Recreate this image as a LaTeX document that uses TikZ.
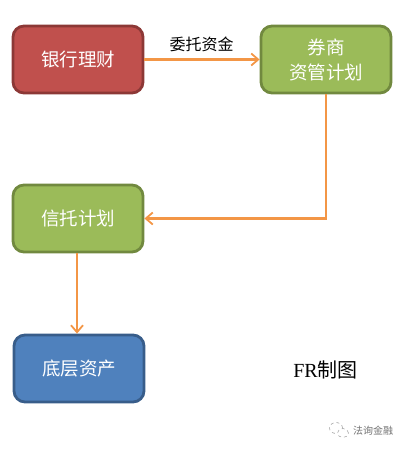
\documentclass[tikz,border=0pt]{standalone}
\usepackage{fontspec}
\setmainfont{Liberation Serif}
\newfontfamily\cjk{Noto Sans CJK SC}
\usetikzlibrary{arrows.meta}
\definecolor{redf}{RGB}{192,80,77}
\definecolor{redd}{RGB}{140,56,54}
\definecolor{greenf}{RGB}{155,187,89}
\definecolor{greend}{RGB}{113,137,63}
\definecolor{bluef}{RGB}{79,129,189}
\definecolor{blued}{RGB}{56,93,138}
\definecolor{orangeline}{RGB}{243,150,70}
\tikzset{
  box/.style={draw, line width=2.8pt, rounded corners=11pt, minimum width=130pt, minimum height=67pt,
    inner sep=0pt, align=center, text=white, font=\fontsize{18.5}{25}\selectfont\cjk},
  redbox/.style={box, fill=redf, draw=redd},
  greenbox/.style={box, fill=greenf, draw=greend},
  bluebox/.style={box, fill=bluef, draw=blued},
  link/.style={draw=orangeline, line width=2.1pt, -{Straight Barb[length=7pt,width=12pt,line width=1.8pt]}},
}
\begin{document}
\begin{tikzpicture}[x=1pt,y=-1pt]
\useasboundingbox (0,0) rectangle (405,450);
\node[redbox] (bank) at (78,59.5) {银行理财};
\node[greenbox] (broker) at (326,59.5) {券商\\资管计划};
\node[greenbox] (trust) at (78,218.5) {信托计划};
\node[bluebox] (asset) at (79,368.5) {底层资产};
\draw[link] (bank.east) -- (broker.west);
\draw[link] (broker.south) |- (trust.east);
\draw[link] (trust.south -| 77,0) -- (asset.north -| 77,0);
\node[font=\fontsize{16}{18}\selectfont\cjk, text=black] (label) at (201.5,44.5) {委托资金};
\node[font=\fontsize{20}{22}\selectfont, text=black] (credit) at (325.5,369.5) {FR{\cjk 制图}};
\node[font=\fontsize{10}{12}\selectfont\cjk, text=black!55] (mark) at (373,431) {法询金融};
\coordinate (bubbleA) at (336,428);
\coordinate (bubbleB) at (343,433);
\draw[black!35, line width=.6pt, dashed, fill=white] (bubbleA) ellipse (6.5pt and 5.5pt);
\draw[black!35, line width=.6pt, dashed, fill=white] (bubbleB) ellipse (5.5pt and 4.5pt);
\end{tikzpicture}
\end{document}
